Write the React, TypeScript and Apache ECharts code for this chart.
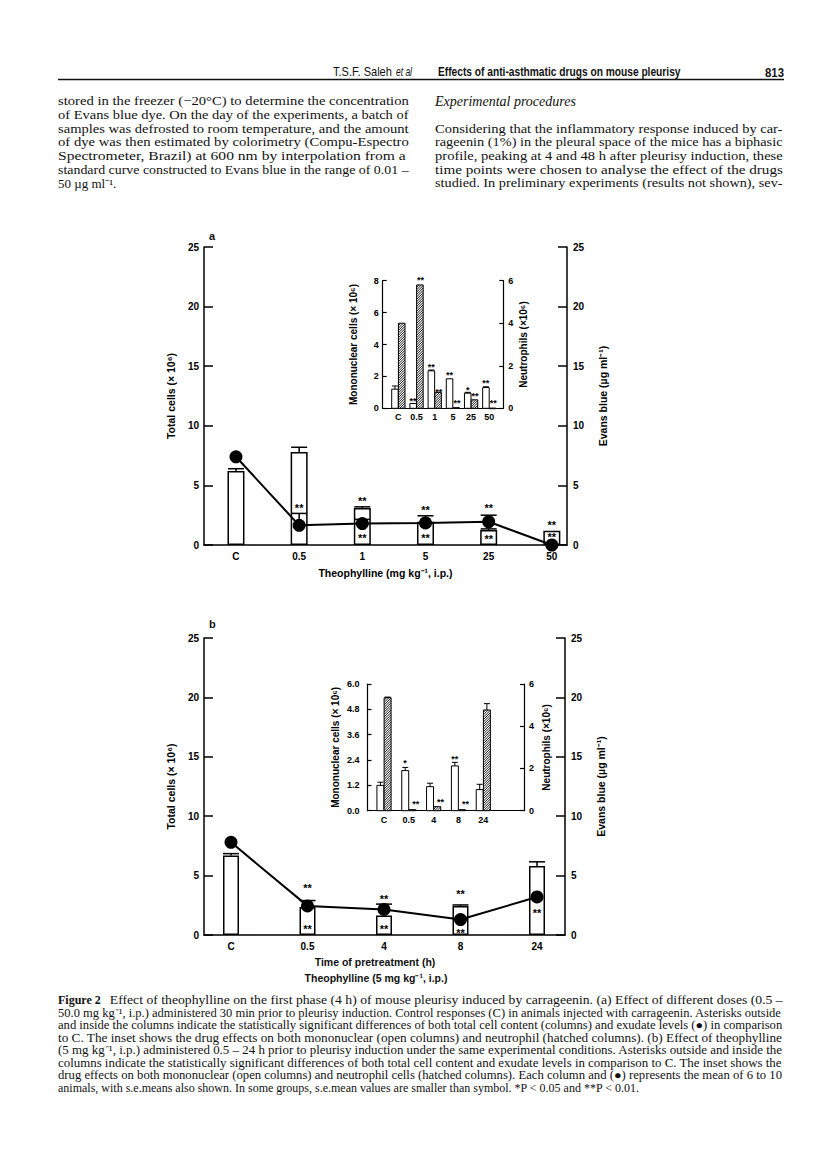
import React, { useEffect, useRef } from "react";
import * as echarts from "echarts";

// ---------- Panel a : doses ----------
const aCats = ["C", "0.5", "1", "5", "25", "50"];
const aTotal = [6.2, 7.8, 3.1, 1.95, 1.25, 1.2];
const aTotalErr = [0.2, 0.4, 0.1, 0, 0.1, 0];
const aEvans = [7.4, 1.65, 1.8, 1.85, 1.95, 0];
const aEvansErr = [0, 1.0, 0.35, 0.6, 0.55, 0];
const aStarX = [1, 2, 2, 3, 3, 4, 4, 5, 5];
const aStarY = [3.4, 3.95, 0.85, 3.2, 0.85, 3.35, 0.8, 1.95, 0.95];
const aStarT = ["**", "**", "**", "**", "**", "**", "**", "**", "**"];
// inset a
const aMono = [1.2, 0.3, 2.35, 1.85, 0.95, 1.3];
const aMonoErr = [0.2, 0, 0.05, 0, 0.05, 0.05];
const aNeut = [4.0, 5.8, 0.75, 0.03, 0.4, 0.01];
const aNeutErr = [0, 0, 0, 0, 0, 0];
const aInsetStarX = [0.81, 1.81, 2.81, 3.81, 4.81, 1.22, 2.22, 3.22, 4.22, 5.22];
const aInsetStarY = [0.63, 2.76, 2.26, 1.32, 1.77, 8.2, 1.19, 0.46, 0.9, 0.46];
const aInsetStarT = ["**", "**", "**", "*", "**", "**", "**", "**", "**", "**"];

// ---------- Panel b : time of pretreatment ----------
const bCats = ["C", "0.5", "4", "8", "24"];
const bTotal = [6.7, 2.35, 1.65, 2.45, 5.8];
const bTotalErr = [0.15, 0, 0, 0.08, 0.36];
const bEvans = [7.8, 2.45, 2.15, 1.3, 3.2];
const bEvansErr = [0, 0.45, 0.45, 0, 0];
const bStarX = [1, 1, 2, 2, 3, 3, 4];
const bStarY = [4.2, 0.76, 3.25, 0.76, 3.7, 0.42, 2.12];
const bStarT = ["**", "**", "**", "**", "**", "**", "**"];
// inset b
const bMono = [1.2, 1.9, 1.14, 2.12, 1.0];
const bMonoErr = [0.15, 0.15, 0.16, 0.17, 0.25];
const bNeut = [5.35, 0.05, 0.19, 0.05, 4.77];
const bNeutErr = [0.03, 0, 0, 0, 0.3];
const bInsetStarX = [0.85, 2.85, 1.28, 2.28, 3.28];
const bInsetStarY = [2.4, 2.59, 0.43, 0.55, 0.43];
const bInsetStarT = ["*", "**", "**", "**", "**"];

// ---------- Page text ----------
const leftColLines = [
  "stored in the freezer (\u221220\u00b0C) to determine the concentration",
  "of Evans blue dye. On the day of the experiments, a batch of",
  "samples was defrosted to room temperature, and the amount",
  "of dye was then estimated by colorimetry (Compu-Espectro",
  "Spectrometer, Brazil) at 600 nm by interpolation from a",
  "standard curve constructed to Evans blue in the range of 0.01 \u2013",
  "50 \u00b5g ml\u207b\u00b9.",
];
const rightColLines = [
  "",
  "",
  "Considering that the inflammatory response induced by car-",
  "rageenin (1%) in the pleural space of the mice has a biphasic",
  "profile, peaking at 4 and 48 h after pleurisy induction, these",
  "time points were chosen to analyse the effect of the drugs",
  "studied. In preliminary experiments (results not shown), sev-",
];
const captionLines = [
  "Effect of theophylline on the first phase (4 h) of mouse pleurisy induced by carrageenin. (a) Effect of different doses (0.5 \u2013",
  "50.0 mg kg\u207b\u00b9, i.p.) administered 30 min prior to pleurisy induction. Control responses (C) in animals injected with carrageenin. Asterisks outside",
  "and inside the columns indicate the statistically significant differences of both total cell content (columns) and exudate levels (\u25cf) in comparison",
  "to C. The inset shows the drug effects on both mononuclear (open columns) and neutrophil (hatched columns). (b) Effect of theophylline",
  "(5 mg kg\u207b\u00b9, i.p.) administered 0.5 \u2013 24 h prior to pleurisy induction under the same experimental conditions. Asterisks outside and inside the",
  "columns indicate the statistically significant differences of both total cell content and exudate levels in comparison to C. The inset shows the",
  "drug effects on both mononuclear (open columns) and neutrophil cells (hatched columns). Each column and (\u25cf) represents the mean of 6 to 10",
  "animals, with s.e.means also shown. In some groups, s.e.mean values are smaller than symbol. *P < 0.05 and **P < 0.01.",
];

const SANS = "Liberation Sans";
const SERIF = "Liberation Serif";

export default function App() {
  const ref = useRef<HTMLDivElement>(null);

  useEffect(() => {
    const el = ref.current!;
    const chart = echarts.init(el, undefined, { renderer: "svg" });
    const ctx = document.createElement("canvas").getContext("2d")!;
    const measure = (t: string, size: number, weight: string, style: string, family: string) => {
      ctx.font = `${style} ${weight} ${size}px "${family}"`;
      return ctx.measureText(t).width;
    };

    const g: any[] = [];
    const addText = (
      t: string, x: number, y: number, size: number,
      o: { weight?: string; style?: string; family?: string; width?: number; align?: string; minS?: number; maxS?: number } = {}
    ) => {
      if (!t) return;
      const weight = o.weight || "normal";
      const style = o.style || "normal";
      const family = o.family || SERIF;
      let sx = 1;
      if (o.width) {
        const w = measure(t, size, weight, style, family);
        sx = Math.min(o.maxS ?? 1.2, Math.max(o.minS ?? 0.8, o.width / w));
      }
      g.push({
        type: "text", x, y, scaleX: sx, silent: true,
        style: {
          text: t, fontSize: size, fontWeight: weight, fontStyle: style, fontFamily: family,
          fill: "#111", textAlign: o.align || "left", textVerticalAlign: "middle",
        },
      });
    };

    // header
    const HY = 72;
    addText("T.S.F. Saleh", 333, HY, 12, { family: SANS, width: 59, minS: 0.5 });
    addText("et al", 396, HY, 12, { family: SANS, style: "italic", width: 16, minS: 0.5 });
    addText("Effects of anti-asthmatic drugs on mouse pleurisy", 438, HY, 12, { family: SANS, weight: "bold", width: 243, minS: 0.5 });
    addText("813", 765, HY, 12, { family: SANS, weight: "bold", width: 19, minS: 0.5 });
    g.push({ type: "line", silent: true, shape: { x1: 58, y1: 79.5, x2: 784, y2: 79.5 }, style: { stroke: "#111", lineWidth: 1.5 } });

    // body columns
    const BY = 101;
    const BDY = 13.7;
    leftColLines.forEach((t, i) => {
      addText(t, 58, BY + i * BDY, 13, { width: i < leftColLines.length - 1 ? 351 : undefined });
    });
    addText("Experimental procedures", 435, BY, 14, { style: "italic" });
    rightColLines.forEach((t, i) => {
      addText(t, 435, BY + i * BDY, 13, { width: 348 });
    });

    // panel letters
    addText("a", 209, 236, 11, { family: SANS, weight: "bold" });
    addText("b", 209, 624, 11, { family: SANS, weight: "bold" });

    // panel b x titles
    addText("Time of pretreatment (h)", 375, 962, 10.5, { family: SANS, weight: "bold", align: "center" });
    addText("Theophylline (5 mg kg\u207b\u00b9, i.p.)", 376, 978, 10.5, { family: SANS, weight: "bold", align: "center" });

    // caption
    const capY0 = 1000;
    const capDy = 12.6;
    const capFs = 12;
    const fig = "Figure 2";
    const figW = measure(fig, capFs, "bold", "normal", SERIF);
    addText(fig, 58, capY0, capFs, { weight: "bold" });
    captionLines.forEach((t, i) => {
      if (i === 0) {
        const x0 = 58 + figW + 9;
        addText(t, x0, capY0, capFs, { width: 783 - x0 });
      } else {
        addText(t, 58, capY0 + i * capDy, capFs, { width: i < captionLines.length - 1 ? 725 : undefined });
      }
    });

    // ---------- chart helpers ----------
    const tickLabel = (size: number) => ({ color: "#000", fontFamily: SANS, fontWeight: "bold", fontSize: size });
    const nameStyle = (size: number) => ({ color: "#000", fontFamily: SANS, fontWeight: "bold", fontSize: size });

    const xAxisCfg = (gridIndex: number, min: number, max: number, cats: string[], fs: number, margin: number, lw: number, name?: string, nameGap?: number) => ({
      type: "value", gridIndex, min, max,
      axisLine: { show: true, onZero: false, lineStyle: { color: "#000", width: lw } },
      axisTick: { show: false },
      splitLine: { show: false },
      axisLabel: {
        ...tickLabel(fs), margin,
        customValues: cats.map((_, i) => i),
        formatter: (v: number) => cats[Math.round(v)] ?? "",
      },
      name: name || "",
      nameLocation: "middle",
      nameGap: nameGap || 20,
      nameTextStyle: nameStyle(10.5),
      nameMoveOverlap: false,
    });

    const yAxisCfg = (gridIndex: number, position: string, max: number, interval: number, fs: number, margin: number, tickLen: number, lw: number, name: string, nameGap: number, nameFs: number, fmt?: (v: number) => string) => ({
      type: "value", gridIndex, position, min: 0, max, interval,
      axisLine: { show: true, onZero: false, lineStyle: { color: "#000", width: lw } },
      axisTick: { show: true, inside: true, length: tickLen, lineStyle: { color: "#000", width: lw } },
      splitLine: { show: false },
      axisLabel: { ...tickLabel(fs), margin, formatter: fmt },
      name, nameLocation: "middle", nameRotate: 90, nameGap,
      nameTextStyle: nameStyle(nameFs),
      nameMoveOverlap: false,
    });

    const errRender = (capHalf: number, lw: number) => (params: any, api: any) => {
      const x = api.value(0), v = api.value(1), e = api.value(2);
      if (!(e > 0)) return { type: "group", children: [] };
      const p = api.coord([x, v]);
      const q = api.coord([x, v + e]);
      return {
        type: "group",
        children: [
          { type: "line", shape: { x1: p[0], y1: p[1], x2: q[0], y2: q[1] }, style: { stroke: "#000", lineWidth: lw } },
          { type: "line", shape: { x1: q[0] - capHalf, y1: q[1], x2: q[0] + capHalf, y2: q[1] }, style: { stroke: "#000", lineWidth: lw } },
        ],
      };
    };

    const starRender = (texts: string[], fs: number) => (params: any, api: any) => {
      const p = api.coord([api.value(0), api.value(1)]);
      return {
        type: "text", x: p[0], y: p[1] + fs * 0.28,
        style: { text: texts[params.dataIndex], textAlign: "center", textVerticalAlign: "middle", fontSize: fs, fontWeight: "bold", fontFamily: SANS, fill: "#000" },
      };
    };

    const insetBarRender = (offset: number, halfW: number, hatched: boolean, capHalf: number) => (params: any, api: any) => {
      const x = api.value(0), v = api.value(1), e = api.value(2);
      const p0 = api.coord([x + offset - halfW, 0]);
      const p1 = api.coord([x + offset + halfW, v]);
      const left = p0[0], right = p1[0], bottom = p0[1], top = p1[1];
      const children: any[] = [
        { type: "rect", shape: { x: left, y: top, width: right - left, height: Math.max(0.6, bottom - top) }, style: { fill: "#fff", stroke: "#000", lineWidth: 1 } },
      ];
      if (hatched) {
        const s = 2.4;
        for (let c = left + top; c < right + bottom; c += s) {
          const xa = Math.max(left, c - bottom);
          const xb = Math.min(right, c - top);
          if (xb > xa + 0.2) {
            children.push({ type: "line", shape: { x1: xa, y1: c - xa, x2: xb, y2: c - xb }, style: { stroke: "#000", lineWidth: 0.9 } });
          }
        }
      }
      if (e > 0) {
        const cx = api.coord([x + offset, v])[0];
        const q = api.coord([x + offset, v + e]);
        children.push({ type: "line", shape: { x1: cx, y1: top, x2: cx, y2: q[1] }, style: { stroke: "#000", lineWidth: 1 } });
        children.push({ type: "line", shape: { x1: cx - capHalf, y1: q[1], x2: cx + capHalf, y2: q[1] }, style: { stroke: "#000", lineWidth: 1 } });
      }
      return { type: "group", children };
    };

    const grid = (left: number, top: number, width: number, height: number) => ({
      left, top, width, height, containLabel: false, outerBoundsMode: "none", show: false,
    });

    const option: any = {
      animation: false,
      backgroundColor: "#fff",
      grid: [
        grid(204, 247, 363, 298),
        grid(382.7, 280.7, 120.6, 127.6),
        grid(204, 638, 361, 297),
        grid(367.5, 684, 156.5, 126.7),
      ],
      xAxis: [
        xAxisCfg(0, -0.506, 5.24, aCats, 10, 6, 1.5, "Theophylline (mg kg\u207b\u00b9, i.p.)", 22),
        xAxisCfg(1, -0.86, 5.77, aCats, 9, 4, 1.2),
        xAxisCfg(2, -0.353, 4.366, bCats, 10, 6, 1.5),
        xAxisCfg(3, -0.665, 5.64, bCats, 9, 5, 1.2),
      ],
      yAxis: [
        yAxisCfg(0, "left", 25, 5, 10, 5, 9, 1.5, "Total cells (\u00d7 10\u2076)", 28, 10.5),
        yAxisCfg(0, "right", 25, 5, 10, 6, 9, 1.5, "Evans blue (\u00b5g ml\u207b\u00b9)", 30, 10.5),
        yAxisCfg(1, "left", 8, 2, 9, 4, 4, 1.2, "Mononuclear cells (\u00d7 10\u2076)", 24, 10),
        yAxisCfg(1, "right", 6, 2, 9, 5, 4, 1.2, "Neutrophils (\u00d710\u2076)", 15, 10),
        yAxisCfg(2, "left", 25, 5, 10, 5, 9, 1.5, "Total cells (\u00d7 10\u2076)", 28, 10.5),
        yAxisCfg(2, "right", 25, 5, 10, 6, 9, 1.5, "Evans blue (\u00b5g ml\u207b\u00b9)", 30, 10.5),
        yAxisCfg(3, "left", 6, 1.2, 9, 8, 4, 1.2, "Mononuclear cells (\u00d7 10\u2076)", 27, 10, (v: number) => v.toFixed(1)),
        yAxisCfg(3, "right", 6, 2, 9, 5, 4, 1.2, "Neutrophils (\u00d710\u2076)", 17, 10),
      ],
      series: [
        // ----- panel a -----
        {
          type: "bar", xAxisIndex: 0, yAxisIndex: 0, barWidth: 17, z: 2,
          data: aTotal.map((v, i) => [i, v]),
          itemStyle: { color: "#fff", borderColor: "#000", borderWidth: 1.5 },
        },
        { type: "custom", xAxisIndex: 0, yAxisIndex: 0, z: 3, renderItem: errRender(8, 1.5), data: aTotal.map((v, i) => [i, v, aTotalErr[i]]) },
        {
          type: "line", xAxisIndex: 0, yAxisIndex: 1, z: 4, clip: false,
          data: aEvans.map((v, i) => [i, v]),
          symbol: "circle", symbolSize: 13,
          lineStyle: { color: "#000", width: 2 }, itemStyle: { color: "#000" },
        },
        { type: "custom", xAxisIndex: 0, yAxisIndex: 1, z: 3, renderItem: errRender(8, 1.5), data: aEvans.map((v, i) => [i, v, aEvansErr[i]]) },
        { type: "custom", xAxisIndex: 0, yAxisIndex: 0, z: 6, renderItem: starRender(aStarT, 11), data: aStarX.map((x, i) => [x, aStarY[i]]) },
        // inset a
        { type: "custom", xAxisIndex: 1, yAxisIndex: 2, z: 3, renderItem: insetBarRender(-0.185, 0.18, false, 3), data: aMono.map((v, i) => [i, v, aMonoErr[i]]) },
        { type: "custom", xAxisIndex: 1, yAxisIndex: 3, z: 3, renderItem: insetBarRender(0.185, 0.18, true, 3), data: aNeut.map((v, i) => [i, v, aNeutErr[i]]) },
        { type: "custom", xAxisIndex: 1, yAxisIndex: 2, z: 6, renderItem: starRender(aInsetStarT, 9), data: aInsetStarX.map((x, i) => [x, aInsetStarY[i]]) },
        // ----- panel b -----
        {
          type: "bar", xAxisIndex: 2, yAxisIndex: 4, barWidth: 16, z: 2,
          data: bTotal.map((v, i) => [i, v]),
          itemStyle: { color: "#fff", borderColor: "#000", borderWidth: 1.5 },
        },
        { type: "custom", xAxisIndex: 2, yAxisIndex: 4, z: 3, renderItem: errRender(8, 1.5), data: bTotal.map((v, i) => [i, v, bTotalErr[i]]) },
        {
          type: "line", xAxisIndex: 2, yAxisIndex: 5, z: 4, clip: false,
          data: bEvans.map((v, i) => [i, v]),
          symbol: "circle", symbolSize: 13,
          lineStyle: { color: "#000", width: 2 }, itemStyle: { color: "#000" },
        },
        { type: "custom", xAxisIndex: 2, yAxisIndex: 5, z: 3, renderItem: errRender(8, 1.5), data: bEvans.map((v, i) => [i, v, bEvansErr[i]]) },
        { type: "custom", xAxisIndex: 2, yAxisIndex: 4, z: 6, renderItem: starRender(bStarT, 11), data: bStarX.map((x, i) => [x, bStarY[i]]) },
        // inset b
        { type: "custom", xAxisIndex: 3, yAxisIndex: 6, z: 3, renderItem: insetBarRender(-0.145, 0.14, false, 3), data: bMono.map((v, i) => [i, v, bMonoErr[i]]) },
        { type: "custom", xAxisIndex: 3, yAxisIndex: 7, z: 3, renderItem: insetBarRender(0.145, 0.14, true, 3), data: bNeut.map((v, i) => [i, v, bNeutErr[i]]) },
        { type: "custom", xAxisIndex: 3, yAxisIndex: 6, z: 6, renderItem: starRender(bInsetStarT, 9), data: bInsetStarX.map((x, i) => [x, bInsetStarY[i]]) },
      ],
      graphic: { elements: g },
    };

    chart.setOption(option);
    return () => chart.dispose();
  }, []);

  return (
    <div
      ref={ref}
      style={{ position: "absolute", left: 0, top: 0, width: 816, height: 1151, background: "#fff" }}
    />
  );
}
